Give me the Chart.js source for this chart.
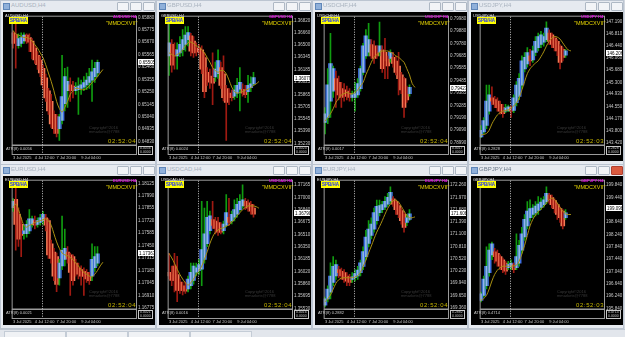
<!DOCTYPE html>
<html>
<head>
<meta charset="utf-8">
<script src="https://cdn.jsdelivr.net/npm/chart.js@4.4.1/dist/chart.umd.min.js"></script>
<style>
  body { margin: 0; width: 625px; height: 337px; background: #d3d8df; overflow: hidden; position: relative; font-family: "Liberation Sans", "DejaVu Sans", sans-serif; }
  .win { position: absolute; width: 156px; height: 165px; background: #e6eaf0; box-shadow: inset 0 0 0 1px #bcc5d1; }
  .bar { position: absolute; left: 0; top: 0; width: 156px; height: 12px; }
  .bar span { position: absolute; }
  .ico { left: 3px; top: 3px; width: 5px; height: 5px; background: #8fb0da; border: 1px solid #5f86b8; }
  .ttl { left: 11px; top: 2px; font-size: 6px; color: #a9b3bf; }
  .btn { top: 2px; width: 10px; height: 7px; border: 1px solid #aeb8c4; background: #f2f4f7; border-radius: 1px; }
  .b1 { left: 117px; } .b2 { left: 130px; } .b3 { left: 143px; }
  .active .ttl { color: #6d7b8c; }
  .active .b3 { background: #d95a3f; border-color: #b04030; }
  .pane { position: absolute; left: 3px; top: 12px; width: 152px; height: 149px; background: #000; }
  .pane canvas { position: absolute; left: 0; top: 0; }
  .pane span { position: absolute; white-space: nowrap; line-height: 1; }
  .sym { left: 2px; top: 2px; font-size: 4px; color: #e8e8e8; }
  .spb { left: 6px; top: 5px; width: 19px; height: 7px; background: #ffff00; color: #1a2cff; font-size: 4.5px; font-weight: bold; text-align: center; line-height: 7px !important; }
  .mag { left: 110px; top: 3px; font-size: 4px; font-weight: bold; color: #e010e0; }
  .roman { left: 103px; top: 9px; font-size: 5.5px; color: #e6d400; }
  .wm { left: 86px; top: 114px; font-size: 4px; color: #3a3a3a; line-height: 1.1 !important; }
  .clock { left: 105px; top: 126px; font-size: 6px; color: #c9b800; letter-spacing: 0.6px; }
  .atr { left: 3px; top: 135px; font-size: 4px; color: #c8c8c8; }
  .atrs { left: 135px; top: 134px; font-size: 3.5px; color: #c8c8c8; border: 1px solid #c8c8c8; padding: 0 1px; line-height: 1.05 !important; }
  .strip { position: absolute; left: 0; top: 329px; width: 625px; height: 8px; background: #e2e6ec; border-top: 1px solid #c0c8d2; }
  .tab { position: absolute; top: 331px; height: 6px; width: 60px; background: #f0f2f5; border: 1px solid #c4ccd6; border-bottom: none; }
</style>
</head>
<body>
<div class="strip"></div>
<div class="tab" style="left:4px"></div>
<div class="tab" style="left:66px"></div>
<div class="tab" style="left:128px"></div>
<div class="tab" style="left:190px"></div>
<script>
// ── Shared axis data ─────────────────────────
const barCount = 46;
const timeLabels = ["3 Jul 2025", "4 Jul 12:00", "7 Jul 20:00", "9 Jul 04:00"];
const timeBars = [0, 8, 16, 25];
const separatorBar = 11;

// ── Candles: [open, high, low, close] ────────
const audusdCandles = [
  [0.6575, 0.6576, 0.6562, 0.6566], [0.6573, 0.6584, 0.6545, 0.6567], [0.6564, 0.6574, 0.6562, 0.6570],
  [0.6566, 0.6575, 0.6563, 0.6571], [0.6568, 0.6575, 0.6566, 0.6573], [0.6573, 0.6574, 0.6566, 0.6568],
  [0.6571, 0.6574, 0.6559, 0.6567], [0.6568, 0.6570, 0.6553, 0.6559], [0.6562, 0.6564, 0.6549, 0.6552],
  [0.6556, 0.6559, 0.6544, 0.6548], [0.6552, 0.6555, 0.6538, 0.6541], [0.6545, 0.6548, 0.6528, 0.6531],
  [0.6537, 0.6540, 0.6517, 0.6520], [0.6526, 0.6528, 0.6506, 0.6509], [0.6517, 0.6523, 0.6495, 0.6498],
  [0.6506, 0.6509, 0.6490, 0.6494], [0.6504, 0.6506, 0.6487, 0.6490], [0.6494, 0.6506, 0.6484, 0.6504],
  [0.6501, 0.6556, 0.6498, 0.6521], [0.6515, 0.6545, 0.6509, 0.6538], [0.6526, 0.6546, 0.6512, 0.6534],
  [0.6531, 0.6537, 0.6517, 0.6526], [0.6530, 0.6534, 0.6520, 0.6526], [0.6526, 0.6533, 0.6523, 0.6529],
  [0.6527, 0.6537, 0.6506, 0.6530], [0.6528, 0.6535, 0.6523, 0.6531], [0.6529, 0.6538, 0.6526, 0.6533],
  [0.6531, 0.6541, 0.6527, 0.6535], [0.6533, 0.6545, 0.6528, 0.6538], [0.6535, 0.6552, 0.6517, 0.6542],
  [0.6538, 0.6550, 0.6533, 0.6545], [0.6541, 0.6552, 0.6538, 0.6550]
];
const audusdMA = [0.6577, 0.6574, 0.6573, 0.6572, 0.6571, 0.6571, 0.6570, 0.6568, 0.6565, 0.6562, 0.6558, 0.6554,
  0.6548, 0.6541, 0.6534, 0.6526, 0.6517, 0.6511, 0.6508, 0.6512, 0.6517, 0.6523, 0.6526, 0.6528, 0.6528, 0.6527,
  0.6527, 0.6528, 0.6530, 0.6533, 0.6535, 0.6538, 0.6541, 0.6544];
const audusdTicks = [0.65880, 0.65775, 0.65670, 0.65565, 0.65460, 0.65355, 0.65250, 0.65145, 0.65040, 0.64935, 0.64830];

const gbpusdCandles = [
  [1.3636, 1.3678, 1.3611, 1.3653], [1.3651, 1.3657, 1.3615, 1.3624], [1.3644, 1.3653, 1.3619, 1.3636],
  [1.3636, 1.3653, 1.3619, 1.3644], [1.3640, 1.3661, 1.3635, 1.3651], [1.3644, 1.3670, 1.3636, 1.3657],
  [1.3651, 1.3674, 1.3642, 1.3663], [1.3657, 1.3674, 1.3649, 1.3666], [1.3662, 1.3665, 1.3636, 1.3642],
  [1.3655, 1.3661, 1.3634, 1.3640], [1.3646, 1.3653, 1.3636, 1.3642], [1.3646, 1.3651, 1.3638, 1.3641],
  [1.3644, 1.3649, 1.3613, 1.3619], [1.3634, 1.3640, 1.3582, 1.3590], [1.3615, 1.3621, 1.3598, 1.3605],
  [1.3610, 1.3619, 1.3594, 1.3602], [1.3607, 1.3640, 1.3573, 1.3601], [1.3609, 1.3628, 1.3603, 1.3619],
  [1.3613, 1.3644, 1.3607, 1.3630], [1.3621, 1.3628, 1.3594, 1.3598], [1.3613, 1.3636, 1.3578, 1.3582],
  [1.3594, 1.3598, 1.3527, 1.3576], [1.3588, 1.3594, 1.3573, 1.3582], [1.3586, 1.3592, 1.3578, 1.3582],
  [1.3584, 1.3598, 1.3580, 1.3592], [1.3588, 1.3607, 1.3582, 1.3598], [1.3593, 1.3621, 1.3565, 1.3602],
  [1.3593, 1.3600, 1.3584, 1.3588], [1.3591, 1.3598, 1.3582, 1.3586], [1.3590, 1.3611, 1.3576, 1.3598],
  [1.3595, 1.3609, 1.3590, 1.3600], [1.3600, 1.3615, 1.3598, 1.3608]
];
const gbpusdMA = [1.3640, 1.3638, 1.3636, 1.3638, 1.3640, 1.3644, 1.3649, 1.3653, 1.3654, 1.3652, 1.3649, 1.3648,
  1.3644, 1.3640, 1.3634, 1.3628, 1.3621, 1.3617, 1.3615, 1.3617, 1.3617, 1.3613, 1.3605, 1.3596, 1.3590, 1.3588,
  1.3589, 1.3590, 1.3592, 1.3593, 1.3595, 1.3598, 1.3600, 1.3603];
const gbpusdTicks = [1.36820, 1.36660, 1.36500, 1.36345, 1.36185, 1.36025, 1.35865, 1.35705, 1.35545, 1.35390, 1.35230];

const usdchfCandles = [
  [0.7915, 0.7927, 0.7906, 0.7922], [0.7919, 0.7958, 0.7914, 0.7945], [0.7932, 0.7986, 0.7919, 0.7962],
  [0.7940, 0.7960, 0.7935, 0.7958], [0.7950, 0.7956, 0.7927, 0.7941], [0.7947, 0.7952, 0.7933, 0.7937],
  [0.7942, 0.7947, 0.7927, 0.7935], [0.7941, 0.7946, 0.7932, 0.7936], [0.7940, 0.7944, 0.7933, 0.7936],
  [0.7938, 0.7942, 0.7932, 0.7935], [0.7935, 0.7940, 0.7932, 0.7937], [0.7935, 0.7947, 0.7924, 0.7938],
  [0.7937, 0.7950, 0.7935, 0.7946], [0.7942, 0.7960, 0.7940, 0.7958], [0.7955, 0.7978, 0.7953, 0.7976],
  [0.7968, 0.7989, 0.7966, 0.7984], [0.7971, 0.7994, 0.7968, 0.7981], [0.7977, 0.7981, 0.7966, 0.7968],
  [0.7976, 0.7980, 0.7962, 0.7966], [0.7972, 0.7976, 0.7966, 0.7968], [0.7971, 0.7995, 0.7968, 0.7976],
  [0.7973, 0.7976, 0.7955, 0.7958], [0.7971, 0.7982, 0.7950, 0.7964], [0.7966, 0.7968, 0.7950, 0.7960],
  [0.7966, 0.7973, 0.7963, 0.7971], [0.7967, 0.7971, 0.7959, 0.7962], [0.7964, 0.7968, 0.7953, 0.7955],
  [0.7960, 0.7971, 0.7937, 0.7950], [0.7953, 0.7955, 0.7938, 0.7941], [0.7950, 0.7951, 0.7919, 0.7927],
  [0.7941, 0.7944, 0.7931, 0.7933], [0.7938, 0.7945, 0.7936, 0.7943]
];
const usdchfMA = [0.7916, 0.7919, 0.7922, 0.7926, 0.7931, 0.7934, 0.7937, 0.7938, 0.7939, 0.7938, 0.7938, 0.7939,
  0.7941, 0.7944, 0.7947, 0.7953, 0.7958, 0.7963, 0.7967, 0.7969, 0.7971, 0.7972, 0.7972, 0.7972, 0.7971, 0.7970,
  0.7968, 0.7967, 0.7965, 0.7963, 0.7958, 0.7953, 0.7946, 0.7943];
const usdchfTicks = [0.79980, 0.79880, 0.79780, 0.79685, 0.79585, 0.79485, 0.79385, 0.79285, 0.79190, 0.79090, 0.78990];

const usdjpyCandles = [
  [143.59, 143.95, 143.57, 143.80], [143.75, 144.20, 143.70, 144.10], [143.95, 145.21, 143.85, 144.71],
  [144.40, 145.21, 144.30, 144.91], [144.81, 145.16, 144.61, 144.71], [144.76, 144.86, 144.51, 144.61],
  [144.71, 144.81, 144.40, 144.51], [144.61, 144.71, 144.30, 144.40], [144.51, 144.61, 144.20, 144.32],
  [144.40, 144.61, 144.35, 144.49], [144.42, 144.59, 144.38, 144.53], [144.51, 144.56, 144.20, 144.40],
  [144.42, 144.91, 144.35, 144.81], [144.66, 145.32, 144.56, 145.21], [144.86, 145.57, 144.76, 145.42],
  [145.21, 146.13, 145.11, 145.97], [145.72, 146.23, 145.62, 146.08], [145.87, 146.38, 145.77, 146.23],
  [146.13, 146.33, 145.82, 145.97], [146.00, 146.43, 145.92, 146.28], [146.23, 146.73, 146.13, 146.58],
  [146.38, 146.84, 146.28, 146.73], [146.48, 146.89, 146.38, 146.78], [146.55, 146.84, 146.43, 146.73],
  [146.63, 147.19, 146.58, 146.99], [146.84, 146.94, 146.48, 146.58], [146.78, 146.84, 146.38, 146.48],
  [146.68, 146.73, 146.28, 146.38], [146.58, 146.63, 146.13, 146.28], [146.43, 146.48, 145.72, 145.92],
  [146.33, 146.38, 145.97, 146.08], [146.15, 146.33, 146.08, 146.28]
];
const usdjpyMA = [143.65, 143.67, 143.70, 143.80, 144.00, 144.15, 144.28, 144.35, 144.40, 144.42, 144.44, 144.49,
  144.56, 144.66, 144.81, 145.06, 145.32, 145.57, 145.72, 145.82, 145.90, 145.97, 146.10, 146.25, 146.43, 146.58,
  146.68, 146.73, 146.71, 146.65, 146.53, 146.41, 146.31, 146.28];
const usdjpyTicks = [147.190, 146.810, 146.440, 146.060, 145.680, 145.300, 144.930, 144.550, 144.170, 143.800, 143.420];

const eurusdCandles = [
  [1.1786, 1.1796, 1.1782, 1.1793], [1.1795, 1.1809, 1.1740, 1.1768], [1.1779, 1.1786, 1.1744, 1.1752],
  [1.1768, 1.1775, 1.1733, 1.1756], [1.1758, 1.1767, 1.1752, 1.1761], [1.1758, 1.1772, 1.1754, 1.1768],
  [1.1761, 1.1784, 1.1758, 1.1774], [1.1768, 1.1777, 1.1765, 1.1774], [1.1772, 1.1777, 1.1763, 1.1767],
  [1.1768, 1.1775, 1.1765, 1.1772], [1.1770, 1.1779, 1.1767, 1.1775], [1.1772, 1.1782, 1.1768, 1.1779],
  [1.1775, 1.1779, 1.1761, 1.1767], [1.1772, 1.1774, 1.1731, 1.1735], [1.1747, 1.1751, 1.1726, 1.1731],
  [1.1738, 1.1742, 1.1707, 1.1712], [1.1733, 1.1737, 1.1695, 1.1703], [1.1710, 1.1730, 1.1702, 1.1726],
  [1.1723, 1.1777, 1.1719, 1.1740], [1.1730, 1.1763, 1.1723, 1.1742], [1.1738, 1.1744, 1.1726, 1.1731],
  [1.1735, 1.1737, 1.1691, 1.1716], [1.1733, 1.1735, 1.1702, 1.1707], [1.1726, 1.1730, 1.1712, 1.1719],
  [1.1721, 1.1726, 1.1709, 1.1714], [1.1719, 1.1723, 1.1702, 1.1712], [1.1717, 1.1721, 1.1691, 1.1712],
  [1.1716, 1.1719, 1.1705, 1.1709], [1.1712, 1.1716, 1.1703, 1.1707], [1.1712, 1.1747, 1.1707, 1.1730],
  [1.1721, 1.1744, 1.1717, 1.1733], [1.1726, 1.1744, 1.1723, 1.1736]
];
const eurusdMA = [1.1786, 1.1790, 1.1784, 1.1775, 1.1767, 1.1765, 1.1767, 1.1768, 1.1770, 1.1771, 1.1772, 1.1773,
  1.1774, 1.1772, 1.1767, 1.1758, 1.1749, 1.1742, 1.1737, 1.1735, 1.1734, 1.1732, 1.1730, 1.1726, 1.1723, 1.1719,
  1.1716, 1.1714, 1.1712, 1.1711, 1.1714, 1.1718, 1.1723, 1.1727];
const eurusdTicks = [1.18125, 1.17990, 1.17855, 1.17720, 1.17585, 1.17450, 1.17315, 1.17180, 1.17045, 1.16910, 1.16775];

const usdcadCandles = [
  [1.3601, 1.3626, 1.3592, 1.3596], [1.3598, 1.3609, 1.3583, 1.3590], [1.3609, 1.3626, 1.3575, 1.3590],
  [1.3598, 1.3622, 1.3562, 1.3577], [1.3588, 1.3592, 1.3573, 1.3577], [1.3583, 1.3588, 1.3571, 1.3577],
  [1.3582, 1.3588, 1.3573, 1.3576], [1.3579, 1.3596, 1.3575, 1.3592], [1.3583, 1.3613, 1.3579, 1.3601],
  [1.3590, 1.3613, 1.3585, 1.3609], [1.3601, 1.3613, 1.3596, 1.3607], [1.3603, 1.3618, 1.3598, 1.3611],
  [1.3605, 1.3695, 1.3583, 1.3631], [1.3618, 1.3686, 1.3613, 1.3652], [1.3639, 1.3695, 1.3635, 1.3674],
  [1.3656, 1.3682, 1.3652, 1.3676], [1.3671, 1.3695, 1.3659, 1.3663], [1.3669, 1.3674, 1.3652, 1.3659],
  [1.3667, 1.3674, 1.3650, 1.3654], [1.3663, 1.3667, 1.3652, 1.3654], [1.3656, 1.3669, 1.3652, 1.3665],
  [1.3663, 1.3704, 1.3661, 1.3680], [1.3674, 1.3699, 1.3663, 1.3667], [1.3669, 1.3682, 1.3665, 1.3678],
  [1.3674, 1.3697, 1.3669, 1.3684], [1.3678, 1.3699, 1.3674, 1.3691], [1.3684, 1.3704, 1.3682, 1.3695],
  [1.3689, 1.3717, 1.3686, 1.3697], [1.3695, 1.3699, 1.3684, 1.3689], [1.3693, 1.3697, 1.3682, 1.3686],
  [1.3691, 1.3695, 1.3678, 1.3682], [1.3686, 1.3691, 1.3674, 1.3678]
];
const usdcadMA = [1.3626, 1.3620, 1.3613, 1.3605, 1.3598, 1.3592, 1.3587, 1.3584, 1.3587, 1.3592, 1.3598, 1.3603,
  1.3609, 1.3618, 1.3628, 1.3639, 1.3648, 1.3654, 1.3657, 1.3659, 1.3660, 1.3662, 1.3664, 1.3667, 1.3671, 1.3676,
  1.3680, 1.3684, 1.3687, 1.3689, 1.3689, 1.3689, 1.3688, 1.3686];
const usdcadTicks = [1.37165, 1.37000, 1.36840, 1.36675, 1.36510, 1.36350, 1.36185, 1.36020, 1.35860, 1.35695, 1.35530];

const eurjpyCandles = [
  [169.42, 169.61, 169.38, 169.57], [169.57, 169.88, 169.50, 169.80], [169.73, 170.42, 169.57, 170.11],
  [169.96, 170.57, 169.88, 170.34], [170.11, 170.49, 170.03, 170.38], [170.26, 170.34, 170.07, 170.19],
  [170.22, 170.30, 170.03, 170.11], [170.19, 170.26, 169.96, 170.03], [170.11, 170.19, 169.88, 169.99],
  [170.07, 170.15, 169.88, 169.96], [170.03, 170.19, 169.96, 170.09], [170.07, 170.26, 169.99, 170.17],
  [170.11, 170.34, 170.03, 170.25], [170.19, 170.49, 170.11, 170.42], [170.34, 170.80, 170.26, 170.69],
  [170.57, 171.19, 170.49, 171.03], [170.88, 171.42, 170.80, 171.22], [171.07, 171.49, 170.99, 171.34],
  [171.22, 171.72, 171.15, 171.61], [171.42, 171.91, 171.34, 171.76], [171.61, 171.91, 171.53, 171.78],
  [171.68, 171.88, 171.61, 171.80], [171.74, 171.99, 171.68, 171.88], [171.81, 172.07, 171.76, 171.97],
  [171.89, 172.22, 171.84, 172.09], [171.94, 171.99, 171.76, 171.81], [171.88, 171.91, 171.57, 171.68],
  [171.78, 171.84, 171.49, 171.57], [171.66, 171.72, 171.34, 171.42], [171.57, 171.61, 171.15, 171.26],
  [171.38, 171.57, 171.30, 171.49], [171.45, 171.68, 171.42, 171.58]
];
const eurjpyMA = [169.50, 169.57, 169.66, 169.80, 169.94, 170.02, 170.06, 170.07, 170.07, 170.07, 170.07, 170.09,
  170.12, 170.20, 170.34, 170.49, 170.66, 170.82, 170.99, 171.15, 171.28, 171.42, 171.57, 171.71, 171.81, 171.89,
  171.91, 171.86, 171.76, 171.65, 171.55, 171.49, 171.49, 171.51];
const eurjpyTicks = [172.260, 171.970, 171.680, 171.390, 171.100, 170.810, 170.520, 170.230, 169.940, 169.650, 169.360];

const gbpjpyCandles = [
  [196.10, 196.37, 196.05, 196.31], [196.26, 196.89, 196.21, 196.79], [196.58, 197.84, 196.47, 197.21],
  [197.00, 197.94, 196.89, 197.73], [197.58, 197.99, 197.42, 197.94], [197.68, 197.79, 197.31, 197.52],
  [197.63, 197.73, 197.21, 197.37], [197.52, 197.58, 197.10, 197.21], [197.42, 197.47, 197.00, 197.10],
  [197.31, 197.37, 196.94, 197.05], [197.16, 197.37, 197.10, 197.26], [197.18, 197.42, 197.10, 197.31],
  [197.26, 197.31, 197.00, 197.10], [197.16, 198.26, 197.10, 197.52], [197.31, 198.05, 197.21, 197.89],
  [197.73, 198.47, 197.63, 198.26], [198.16, 198.89, 198.05, 198.73], [198.52, 199.31, 198.42, 199.00],
  [198.79, 199.37, 198.68, 199.08], [198.89, 199.21, 198.79, 199.10], [198.94, 199.31, 198.84, 199.16],
  [199.02, 199.47, 198.89, 199.23], [199.12, 199.42, 199.05, 199.29], [199.21, 199.47, 199.13, 199.37],
  [199.31, 199.79, 199.23, 199.58], [199.52, 199.58, 199.26, 199.37], [199.44, 199.52, 199.10, 199.21],
  [199.34, 199.40, 198.94, 199.08], [199.21, 199.26, 198.73, 198.89], [199.08, 199.13, 198.63, 198.79],
  [199.00, 199.05, 198.42, 198.52], [198.79, 199.05, 198.73, 198.94]
];
const gbpjpyMA = [196.10, 196.16, 196.26, 196.47, 196.73, 196.94, 197.08, 197.16, 197.21, 197.21, 197.21, 197.21,
  197.22, 197.24, 197.37, 197.61, 197.89, 198.21, 198.52, 198.73, 198.87, 198.98, 199.06, 199.15, 199.26, 199.37,
  199.42, 199.37, 199.26, 199.12, 199.00, 198.91, 198.89, 198.89];
const gbpjpyTicks = [199.840, 199.440, 199.040, 198.640, 198.240, 197.840, 197.440, 197.040, 196.640, 196.240, 195.840];

// ── Colours ──────────────────────────────────
const bullBody = "#3f6fe3";
const bearBody = "#f47b56";
const bullWick = "#109c10";
const bearWick = "#a01a12";
const bullInner = "#93b2f2";
const maColor = "#a89012";
const frameGray = "#9b9b9b";
const axisText = "#c8c8c8";

const panels = [
  { sym: "AUDUSD", x: 0, y: 0, candles: audusdCandles, ma: audusdMA, ticks: audusdTicks, min: 0.64802, max: 0.65894, digits: 5, last: 0.65505, atr: "0.0056", clock: "02:52:04" },
  { sym: "GBPUSD", x: 156, y: 0, candles: gbpusdCandles, ma: gbpusdMA, ticks: gbpusdTicks, min: 1.35211, max: 1.36879, digits: 5, last: 1.36079, atr: "0.0024", clock: "02:52:04" },
  { sym: "USDCHF", x: 312, y: 0, candles: usdchfCandles, ma: usdchfMA, ticks: usdchfTicks, min: 0.78971, max: 0.80001, digits: 5, last: 0.79427, atr: "0.0017", clock: "02:52:04" },
  { sym: "USDJPY", x: 468, y: 0, candles: usdjpyCandles, ma: usdjpyMA, ticks: usdjpyTicks, min: 143.34, max: 147.38, digits: 3, last: 146.206, atr: "0.2828", clock: "02:52:03" },
  { sym: "EURUSD", x: 0, y: 164, candles: eurusdCandles, ma: eurusdMA, ticks: eurusdTicks, min: 1.16763, max: 1.18164, digits: 5, last: 1.17367, atr: "0.0021", clock: "02:52:04" },
  { sym: "USDCAD", x: 156, y: 164, candles: usdcadCandles, ma: usdcadMA, ticks: usdcadTicks, min: 1.35522, max: 1.37238, digits: 5, last: 1.36790, atr: "0.0016", clock: "02:52:04" },
  { sym: "EURJPY", x: 312, y: 164, candles: eurjpyCandles, ma: eurjpyMA, ticks: eurjpyTicks, min: 169.33, max: 172.39, digits: 3, last: 171.608, atr: "0.2882", clock: "02:52:04" },
  { sym: "GBPJPY", x: 468, y: 164, candles: gbpjpyCandles, ma: gbpjpyMA, ticks: gbpjpyTicks, min: 195.82, max: 200.02, digits: 3, last: 199.098, atr: "0.4714", clock: "02:52:03" }
];

// ── MT4-style overlays: border, ATR box, separator, bid label ──
const terminalPlugin = {
  id: "terminal",
  afterDraw: function (chart, args, opts) {
    const ctx = chart.ctx;
    const a = chart.chartArea;
    const xs = chart.scales.x;
    const ys = chart.scales.y;
    ctx.save();
    ctx.strokeStyle = frameGray;
    ctx.lineWidth = 1;
    ctx.strokeRect(a.left + 0.5, a.top + 0.5, a.right - a.left - 1, a.bottom - a.top - 0.5);
    // ATR sub-window
    ctx.strokeRect(a.left + 0.5, a.bottom + 0.5, a.right - a.left - 1, 9);
    // period separator
    const step = (a.right - a.left) / barCount;
    const sx = Math.round(xs.getPixelForValue(separatorBar) - step / 2) + 0.5;
    ctx.setLineDash([1, 1.5]);
    ctx.strokeStyle = "#c4c4c4";
    ctx.beginPath();
    ctx.moveTo(sx, a.top + 1);
    ctx.lineTo(sx, a.bottom + 9);
    ctx.stroke();
    ctx.setLineDash([]);
    // bid price label on the axis
    const py = Math.round(ys.getPixelForValue(opts.last));
    ctx.fillStyle = "#ffffff";
    ctx.fillRect(a.right + 1, py - 3, 16, 6);
    ctx.fillStyle = "#000000";
    ctx.font = "4.5px 'Liberation Sans', sans-serif";
    ctx.textBaseline = "middle";
    ctx.fillText(opts.last.toFixed(opts.digits), a.right + 2, py + 0.5);
    ctx.restore();
  }
};

function buildWindow(p, active) {
  const win = document.createElement("div");
  win.className = "win" + (active ? " active" : "");
  win.style.left = p.x + "px";
  win.style.top = p.y + "px";
  win.innerHTML =
    '<div class="bar"><span class="ico"></span><span class="ttl">' + p.sym + ',H4</span>' +
    '<span class="btn b1"></span><span class="btn b2"></span><span class="btn b3"></span></div>' +
    '<div class="pane"><canvas width="152" height="149"></canvas>' +
    '<span class="sym">' + p.sym + ',H4</span>' +
    '<span class="spb">SPB/HA</span>' +
    '<span class="mag">' + p.sym + ' H4</span>' +
    '<span class="roman">"MMDCXVII"</span>' +
    '<span class="wm">Copyright©2016<br>mmarkets@7788</span>' +
    '<span class="clock">' + p.clock + '</span>' +
    '<span class="atr">ATR(8) ' + p.atr + '</span>' +
    '<span class="atrs">' + p.atr + '<br>0.0000</span></div>';
  document.body.appendChild(win);
  return win.querySelector("canvas");
}

function drawPanel(canvas, p) {
  const labels = [];
  for (let i = 0; i < barCount; i++) labels.push(i);
  const bull = p.candles.map(function (c) { return c[3] >= c[0]; });

  new Chart(canvas, {
    type: "bar",
    data: {
      labels: labels,
      datasets: [
        {
          type: "line",
          data: p.ma,
          borderColor: maColor,
          borderWidth: 1,
          pointRadius: 0,
          tension: 0.3,
          order: 0
        },
        {
          data: p.candles.map(function (c, i) { return bull[i] ? [c[0], c[3]] : null; }),
          backgroundColor: bullInner,
          barThickness: 1,
          grouped: false,
          order: 1
        },
        {
          data: p.candles.map(function (c) { return [c[2], c[1]]; }),
          backgroundColor: bull.map(function (b) { return b ? bullWick : bearWick; }),
          barThickness: 1,
          grouped: false,
          order: 2
        },
        {
          data: p.candles.map(function (c) { return [c[0], c[3]]; }),
          backgroundColor: bull.map(function (b) { return b ? bullBody : bearBody; }),
          barThickness: 4,
          grouped: false,
          order: 3
        }
      ]
    },
    options: {
      responsive: false,
      animation: false,
      devicePixelRatio: 1,
      layout: { padding: { left: 1, top: 1, right: 0, bottom: 0 } },
      plugins: {
        legend: { display: false },
        tooltip: { enabled: false },
        terminal: { last: p.last, digits: p.digits }
      },
      scales: {
        x: {
          offset: true,
          grid: { display: false, drawTicks: false },
          border: { display: false },
          ticks: {
            autoSkip: false,
            maxRotation: 0,
            minRotation: 0,
            align: "start",
            padding: 10,
            color: axisText,
            font: { family: "'Liberation Sans', sans-serif", size: 4 },
            callback: function (v, i) { return timeLabels[i]; }
          },
          afterBuildTicks: function (s) {
            s.ticks = timeBars.map(function (v) { return { value: v }; });
          },
          afterFit: function (s) { s.height = 16; }
        },
        y: {
          position: "right",
          min: p.min,
          max: p.max,
          grid: { drawOnChartArea: false, drawTicks: false },
          border: { display: false },
          ticks: {
            padding: 1,
            color: axisText,
            font: { family: "'Liberation Sans', sans-serif", size: 4.5 },
            callback: function (v) { return v.toFixed(p.digits); }
          },
          afterBuildTicks: function (s) {
            s.ticks = p.ticks.map(function (v) { return { value: v }; });
          },
          afterFit: function (s) { s.width = 18; }
        }
      }
    },
    plugins: [terminalPlugin]
  });
}

panels.forEach(function (p, k) {
  drawPanel(buildWindow(p, k === 7), p);
});
</script>
</body>
</html>
